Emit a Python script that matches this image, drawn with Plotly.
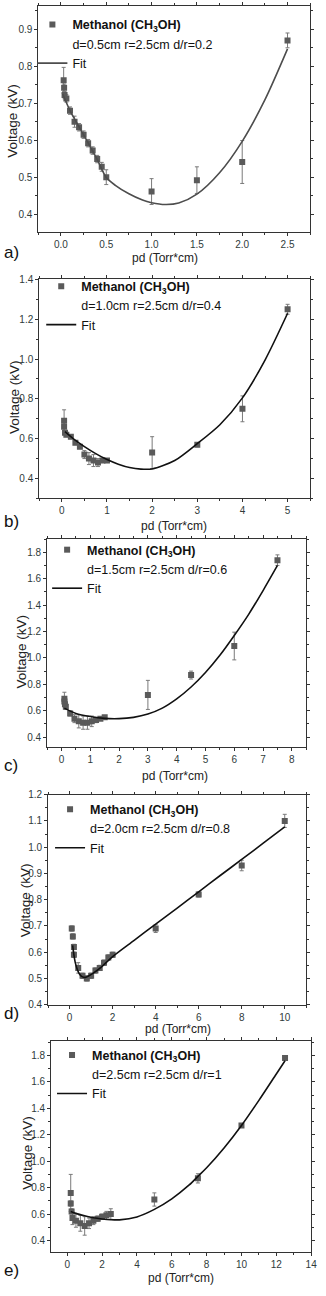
import plotly.graph_objects as go

W, H = 326, 1296
FONT = "Liberation Sans, Arial, sans-serif"

# ---------------- data ----------------
species = "Methanol (CH<sub>3</sub>OH)"
x_title = "pd (Torr*cm)"
y_title = "Voltage (kV)"
panel_labels = ["a)", "b)", "c)", "d)", "e)"]
descriptions = [
    "d=0.5cm r=2.5cm d/r=0.2",
    "d=1.0cm r=2.5cm d/r=0.4",
    "d=1.5cm r=2.5cm d/r=0.6",
    "d=2.0cm r=2.5cm d/r=0.8",
    "d=2.5cm r=2.5cm d/r=1",
]

a_pd = [0.03, 0.035, 0.04, 0.06, 0.1, 0.15, 0.2, 0.25, 0.3, 0.35, 0.4, 0.45, 0.5, 1.0, 1.5, 2.0, 2.5]
a_v = [0.762, 0.742, 0.722, 0.713, 0.68, 0.65, 0.635, 0.615, 0.592, 0.572, 0.549, 0.528, 0.50, 0.461, 0.492, 0.541, 0.87]
a_err = [0.035, 0.01, 0.01, 0.01, 0.01, 0.015, 0.01, 0.01, 0.01, 0.01, 0.01, 0.012, 0.02, 0.035, 0.036, 0.058, 0.02]
a_fit_pd = [0.02, 0.1, 0.2, 0.3, 0.4, 0.5, 0.6, 0.75, 0.9, 1.0, 1.15, 1.3, 1.5, 1.75, 2.0, 2.25, 2.5]
a_fit_v = [0.725, 0.68, 0.636, 0.593, 0.548, 0.499, 0.478, 0.455, 0.438, 0.431, 0.426, 0.43, 0.454, 0.512, 0.597, 0.709, 0.847]

b_pd = [0.05, 0.05, 0.07, 0.1, 0.2, 0.3, 0.4, 0.5, 0.6, 0.7, 0.8, 0.9, 1.0, 2.0, 3.0, 4.0, 5.0]
b_v = [0.69, 0.66, 0.63, 0.62, 0.61, 0.58, 0.56, 0.52, 0.50, 0.49, 0.48, 0.49, 0.49, 0.53, 0.57, 0.75, 1.25]
b_err = [0.055, 0.02, 0.01, 0.01, 0.01, 0.01, 0.01, 0.02, 0.03, 0.03, 0.02, 0.01, 0.01, 0.08, 0.01, 0.065, 0.025]
b_fit_pd = [0.07, 0.25, 0.5, 0.75, 1.0, 1.25, 1.5, 1.75, 2.0, 2.5, 3.0, 3.5, 4.0, 4.5, 5.0]
b_fit_v = [0.635, 0.6, 0.56, 0.525, 0.495, 0.472, 0.455, 0.447, 0.448, 0.49, 0.575, 0.67, 0.805, 0.995, 1.23]

c_pd = [0.1, 0.1, 0.12, 0.15, 0.3, 0.45, 0.6, 0.75, 0.9, 1.05, 1.2, 1.35, 1.5, 3.0, 4.5, 6.0, 7.5]
c_v = [0.69, 0.67, 0.65, 0.63, 0.58, 0.54, 0.52, 0.51, 0.51, 0.52, 0.53, 0.54, 0.55, 0.72, 0.87, 1.09, 1.74]
c_err = [0.05, 0.02, 0.02, 0.02, 0.02, 0.03, 0.05, 0.05, 0.05, 0.04, 0.02, 0.01, 0.01, 0.11, 0.03, 0.105, 0.04]
c_fit_pd = [0.1, 0.5, 1.0, 1.5, 2.0, 2.5, 3.0, 3.5, 4.0, 4.5, 5.0, 5.5, 6.0, 6.5, 7.0, 7.5]
c_fit_v = [0.62, 0.58, 0.556, 0.542, 0.54, 0.55, 0.575, 0.62, 0.69, 0.78, 0.89, 1.02, 1.17, 1.33, 1.51, 1.70]

d_pd = [0.1, 0.15, 0.2, 0.2, 0.4, 0.6, 0.8, 1.0, 1.2, 1.4, 1.6, 1.8, 2.0, 4.0, 6.0, 8.0, 10.0]
d_v = [0.69, 0.66, 0.62, 0.59, 0.54, 0.51, 0.50, 0.51, 0.53, 0.54, 0.56, 0.58, 0.59, 0.69, 0.82, 0.93, 1.10]
d_err = [0.01, 0.01, 0.01, 0.01, 0.02, 0.01, 0.01, 0.01, 0.01, 0.01, 0.01, 0.01, 0.01, 0.015, 0.01, 0.02, 0.025]
d_fit_pd = [0.14, 0.2, 0.27, 0.35, 0.45, 0.58, 0.73, 0.9, 1.1, 1.5, 2.0, 3.0, 4.0, 5.0, 6.0, 7.0, 8.0, 9.0, 10.0]
d_fit_v = [0.626, 0.59, 0.558, 0.536, 0.518, 0.507, 0.504, 0.51, 0.52, 0.545, 0.583, 0.645, 0.707, 0.768, 0.83, 0.892, 0.953, 1.015, 1.077]

e_pd = [0.2, 0.2, 0.25, 0.3, 0.5, 0.75, 1.0, 1.25, 1.5, 1.75, 2.0, 2.25, 2.5, 5.0, 7.5, 10.0, 12.5]
e_v = [0.76, 0.68, 0.62, 0.57, 0.55, 0.53, 0.51, 0.53, 0.55, 0.565, 0.58, 0.59, 0.60, 0.71, 0.87, 1.27, 1.78]
e_err = [0.14, 0.02, 0.02, 0.05, 0.05, 0.06, 0.07, 0.04, 0.03, 0.02, 0.02, 0.03, 0.04, 0.05, 0.035, 0.015, 0.01]
e_fit_pd = [0.2, 0.5, 1.0, 1.5, 2.0, 2.5, 3.0, 4.0, 5.0, 6.0, 7.0, 7.5, 8.0, 9.0, 10.0, 11.0, 12.0, 12.5]
e_fit_v = [0.62, 0.605, 0.587, 0.572, 0.563, 0.557, 0.556, 0.578, 0.635, 0.715, 0.82, 0.885, 0.95, 1.1, 1.27, 1.46, 1.66, 1.76]

series = [
    (a_pd, a_v, a_err, a_fit_pd, a_fit_v),
    (b_pd, b_v, b_err, b_fit_pd, b_fit_v),
    (c_pd, c_v, c_err, c_fit_pd, c_fit_v),
    (d_pd, d_v, d_err, d_fit_pd, d_fit_v),
    (e_pd, e_v, e_err, e_fit_pd, e_fit_v),
]

# ---------------- layout (pixel geometry of each panel) ----------------
# frame: left, right, top, bottom (px)
frames = [(39, 316, 0, 228), (40, 316, 276, 497), (48, 312, 538, 748),
          (49, 312, 796, 1008), (52, 317, 1045, 1258)]
xranges = [[-0.25, 2.75], [-0.5, 5.5], [-0.5, 8.5], [-1, 11], [-0.93, 14]]
yranges = [[0.352, 0.963], [0.3, 1.4], [0.325, 1.9], [0.4, 1.2], [0.31, 1.907]]
xdt = [(0.5, 0.25), (1, 0.5), (1, 0.5), (2, 1), (2, 1)]
ydt = [(0.1, 0.05), (0.2, 0.1), (0.2, 0.1), (0.1, 0.05), (0.2, 0.1)]
xfmt = [".1f", "d", "d", "d", "d"]
legend_pos = [(33, 4), (42, 268), (48, 534), (51, 796), (53, 1044)]
label_y = [249, 520, 767, 1017, 1276]
xtitle_pos = [(168, 254), (177, 525), (178, 777), (181, 1033), (184, 1284)]
ytitle_pos = [(13, 116), (15, 395), (22, 652), (26, 903), (28, 1157)]
fit_colors = ["#4d4d4d", "#111111", "#111111", "#111111", "#111111"]

fig = go.Figure()
layout = dict(
    width=W, height=H, margin=dict(l=0, r=0, t=0, b=0),
    paper_bgcolor="white", plot_bgcolor="white",
    font=dict(family=FONT, color="#222"), showlegend=True,
    annotations=[],
)

for i, ((px, pv, perr, fx, fy), desc) in enumerate(zip(series, descriptions)):
    n = "" if i == 0 else str(i + 1)
    xa, ya = "x" + n, "y" + n
    lg = "legend" + n
    fig.add_trace(go.Scatter(
        x=px, y=pv, mode="markers", name="<b>" + species + "</b>",
        marker=dict(symbol="square", size=6, color="#5a5a5a"),
        error_y=dict(type="data", array=perr, color="#7a7a7a", thickness=1, width=2),
        xaxis=xa, yaxis=ya, legend=lg, legendrank=1,
    ))
    fig.add_trace(go.Scatter(
        x=[None], y=[None], mode="lines", name=desc,
        line=dict(color="rgba(0,0,0,0)", width=0),
        xaxis=xa, yaxis=ya, legend=lg, legendrank=2, hoverinfo="skip",
    ))
    fig.add_trace(go.Scatter(
        x=fx, y=fy, mode="lines", name="Fit",
        line=dict(color=fit_colors[i], width=1.6, shape="spline", smoothing=0.8),
        xaxis=xa, yaxis=ya, legend=lg, legendrank=3,
    ))

    l, r, t, b = frames[i]
    axis_common = dict(
        showline=True, linecolor="#333", linewidth=1, mirror="ticks",
        ticks="outside", ticklen=3, tickcolor="#333", showgrid=False, zeroline=False,
        tickfont=dict(size=10, color="#2f3b3b", family=FONT),
    )
    layout["xaxis" + n] = dict(
        axis_common, domain=[l / W, r / W], anchor=ya, range=xranges[i],
        dtick=xdt[i][0], tick0=0, tickformat=xfmt[i],
        minor=dict(dtick=xdt[i][1], tick0=0, ticks="outside", ticklen=2, tickcolor="#333"),
    )
    layout["yaxis" + n] = dict(
        axis_common, domain=[1 - b / H, 1 - t / H], anchor=xa, range=yranges[i],
        dtick=ydt[i][0], tick0=0, tickformat=".1f",
        minor=dict(dtick=ydt[i][1], tick0=0, ticks="outside", ticklen=2, tickcolor="#333"),
    )
    lx, ly = legend_pos[i]
    layout[lg] = dict(
        x=lx / W, y=1 - ly / H, xanchor="left", yanchor="top",
        bgcolor="rgba(0,0,0,0)", borderwidth=0, itemwidth=30,
        tracegroupgap=0, traceorder="normal",
        font=dict(size=12.5, family=FONT, color="#111"),
    )
    # panel label
    layout["annotations"].append(dict(
        text=panel_labels[i], xref="paper", yref="paper",
        x=2 / W, y=1 - label_y[i] / H, xanchor="left", yanchor="middle",
        showarrow=False, font=dict(size=17, color="#111", family=FONT),
    ))
    # axis titles
    tx, ty = xtitle_pos[i]
    layout["annotations"].append(dict(
        text=x_title, xref="paper", yref="paper",
        x=tx / W, y=1 - ty / H, xanchor="center", yanchor="middle",
        showarrow=False, font=dict(size=12, color="#222", family=FONT),
    ))
    vx, vy = ytitle_pos[i]
    layout["annotations"].append(dict(
        text=y_title, xref="paper", yref="paper", textangle=-90,
        x=vx / W, y=1 - vy / H, xanchor="center", yanchor="middle",
        showarrow=False, font=dict(size=13.5, color="#222", family=FONT),
    ))

fig.update_layout(**layout)
fig.write_html("out.html", config={"displayModeBar": False},
               post_script="document.body.style.margin='0';")
